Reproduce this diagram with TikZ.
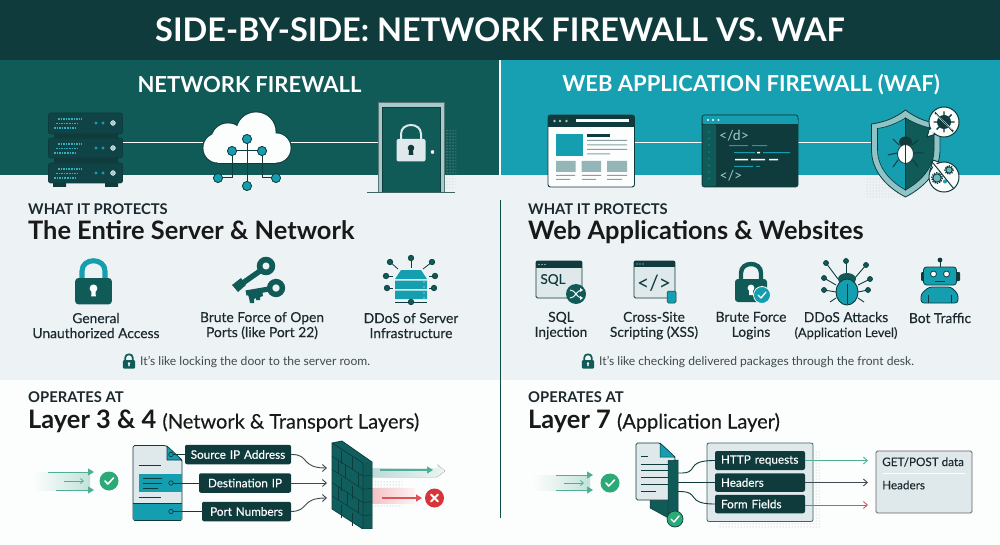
\documentclass[tikz,border=0pt]{standalone}
\usepackage{fontspec}
\setmainfont{Lato}
\newfontfamily\medf[FakeBold=0.25]{Lato}
\usetikzlibrary{arrows.meta,patterns,calc}
\definecolor{ink}{HTML}{0F3B3C}
\definecolor{deep}{HTML}{105A57}
\definecolor{teal}{HTML}{159EAF}
\definecolor{tealhi}{HTML}{17A0B2}
\definecolor{mist}{HTML}{EDF3F5}
\definecolor{pale}{HTML}{FCFDFD}
\definecolor{soft}{HTML}{DFE9EC}
\definecolor{frame}{HTML}{A6CACA}
\definecolor{okg}{HTML}{2BAA78}
\definecolor{arrg}{HTML}{50AE94}
\definecolor{bad}{HTML}{D8353B}
\definecolor{txt}{HTML}{1C2A30}
\definecolor{rose}{HTML}{CC5A66}
\tikzset{
 x=1pt,y=-1pt,
 head/.style={text=white,font=\fontsize{22}{22}\bfseries\selectfont,anchor=center},
 kicker/.style={text=txt,font=\fontsize{14.8}{15}\bfseries\selectfont,anchor=west,inner sep=0pt},
 big/.style={text=black!90,font=\fontsize{25.4}{26}\bfseries\selectfont,anchor=base west,inner sep=0pt},
 item/.style={text=txt,align=center,font=\fontsize{13.8}{15}\medf,inner sep=0pt},
 capt/.style={text=txt!85,font=\fontsize{12.1}{14}\selectfont,anchor=west,inner sep=0pt},
 tag/.style={fill=ink,rounded corners=2pt,text=white,font=\fontsize{11.7}{13}\medf,inner sep=0pt,minimum height=19pt},
 wire/.style={line width=.9pt,draw=txt!85},
 plain/.style={line width=1pt,draw=white},
 tip/.style={-{Straight Barb[length=4pt,width=7pt]}},
 solidtip/.style={-{Triangle[length=6pt,width=7pt]}},
 dot/.style={circle,fill=teal,draw=ink,line width=.7pt,inner sep=0pt,minimum size=#1},
 dot/.default=9pt,
}
% lock: x y scale body shackle
\newcommand{\lockic}[5]{\begin{scope}[shift={(#1,#2)},scale=#3]
 \draw[#5,line width=#3*4.4pt] (-10,2) -- (-10,-6) .. controls (-10,-18) and (10,-18) .. (10,-6) -- (10,2);
 \fill[#4,rounded corners=#3*3pt] (-16,0) rectangle (16,23);
 \fill[white] (0,9) circle (3.4);
 \fill[white] (-1.6,9) -- (1.6,9) -- (2,16) -- (-2,16) -- cycle;
\end{scope}}
\newcommand{\checkic}[4]{\node[circle,fill=#4,inner sep=0pt,minimum size=#3] at (#1,#2) (ck#1) {};
 \begin{scope}[shift={(#1,#2)}]\draw[white,line width=1.6pt,line cap=round,line join=round] (-4,0) -- (-1.2,3) -- (4.5,-3);\end{scope}}
\newcommand{\racku}[2]{\fill[ink!92!teal,draw=ink,line width=.6pt,rounded corners=2pt] (48.5,#1) rectangle (122.5,#2);
 \draw[teal!85,line width=1.1pt,dash pattern=on 1.6pt off 1pt] (58,#1+6) -- (82,#1+6) (56,#1+10.5) -- (78,#1+10.5) (54,#1+15) -- (77,#1+15);
 \fill[teal] (96,#1+10) circle (1.7) (103,#1+10) circle (1.7);
 \fill[frame,draw=white,line width=.4pt] (113,#1+10) circle (2.4);}
\newcommand{\cloudblob}[2]{\fill[#1] (218,148) circle (14.6+#2);\fill[#1] (228,140) circle (16.6+#2);\fill[#1] (256,132) circle (19.6+#2);\fill[#1] (276,148) circle (14.6+#2);\fill[#1] (218,140) rectangle (276,162.6+#2);}
\begin{document}
\begin{tikzpicture}
\useasboundingbox (0,0) rectangle (1000,545);
% backgrounds
\fill[pale] (0,0) rectangle (1000,545);
\fill[mist] (0,175) rectangle (1000,380);
\fill[deep] (0,60) rectangle (500,175);
\fill[tealhi] (500,60) rectangle (1000,175);
\fill[ink] (0,0) rectangle (1000,60);
\coordinate (divtop) at (500,60); \coordinate (divmid) at (500,175); \coordinate (divs) at (500,200); \coordinate (divbot) at (500,518);
\draw[white,line width=1.4pt] (divtop) -- (divmid);
\draw[deep!85!black,line width=.9pt] (divs) -- (divbot);
% titles
\node[text=white,font=\fontsize{32.5}{33}\bfseries\selectfont] (title) at (500,30) {SIDE-BY-SIDE: NETWORK FIREWALL VS. WAF};
\node[head] (hl) at (249.5,85) {NETWORK FIREWALL};
\node[head] (hr) at (751,85) {WEB APPLICATION FIREWALL (WAF)};
% ---- left top icons
\coordinate (srv) at (122.5,143); \coordinate (cloudL) at (203,143); \coordinate (cloudR) at (291,143); \coordinate (doorL) at (378,143);
\draw[plain] (srv) -- (cloudL);
\draw[plain] (cloudR) -- (doorL);
\fill[ink] (54,134) rectangle (118,138) (54,158) rectangle (118,163) (53,183) rectangle (66,187) (105,183) rectangle (118,187);
\racku{113}{134}\racku{138}{158}\racku{163}{183}
\cloudblob{ink}{1}
\cloudblob{pale}{0}
\node[dot] (c0) at (247,139) {};
\node[dot] (c1) at (232,151) {};
\node[dot] (c2) at (262,151) {};
\node[dot] (c3) at (218,178) {};
\node[dot] (c4) at (276,178) {};
\node[dot] (c5) at (247,186) {};
\draw[ink,line width=1pt] (c0) -- (c5) (c1) -- (c2) (c1) |- (c3) (c2) |- (c4);
\node[dot] at (247,139) {};\node[dot] at (232,151) {};\node[dot] at (262,151) {};\node[dot] at (218,178) {};\node[dot] at (276,178) {};\node[dot] at (247,186) {};
% door
\fill[pattern=dots,pattern color=black!25] (446,130) rectangle (456,190);
\fill[frame] (378,102) rectangle (444.5,193);
\fill[deep] (382.5,107) rectangle (440,193);
\draw[ink!70,line width=.6pt] (378,193) |- (444.5,102) -- (444.5,193);
\draw[ink,line width=.8pt] (382.5,193) |- (440,107) -- (440,193);
\draw[ink!80,line width=1pt] (367,193) -- (455,193);
\fill[white!85!frame,draw=ink,line width=.3pt] (432.5,152) circle (2.2);
\begin{scope}[shift={(411,139)}]
\draw[soft,line width=2pt] (-10,1) -- (-10,-5) .. controls (-10,-17) and (10,-17) .. (10,-5) -- (10,1);
\fill[soft,rounded corners=2pt] (-14.5,0) rectangle (14.5,22.5);
\fill[ink] (0,9) circle (3.3);\fill[ink] (-1.7,9) -- (1.7,9) -- (2.4,16) -- (-2.4,16) -- cycle;
\end{scope}
% ---- right top icons
\coordinate (brR) at (634.5,143); \coordinate (codeL) at (702,143); \coordinate (codeR) at (798,143); \coordinate (shL) at (871,143);
\draw[plain] (brR) -- (codeL);
\draw[plain] (codeR) -- (shL);
% browser
\fill[pale,draw=ink,line width=.9pt,rounded corners=2.5pt] (548,115) rectangle (634.5,187);
\fill[ink,rounded corners=2.5pt] (548,115) rectangle (634.5,127);
\fill[ink] (548,122) rectangle (634.5,127.5);
\fill[frame] (554.5,121) circle (1.3) (560,121) circle (1.3) (566.5,121) circle (1.3);
\fill[white] (576,119.5) rectangle (629,122.5);
\fill[teal] (556,134) rectangle (582.5,156);
\fill[ink] (587,134.5) rectangle (610,137);
\fill[frame!80!black] (587,140) rectangle (627,141) (587,144.5) rectangle (627,145.5) (587,149) rectangle (627,150) (587,153.5) rectangle (610,154.5);
\fill[frame!90!black] (556,161) rectangle (575.5,172) (581.5,161) rectangle (601,172) (607,161) rectangle (627,172);
\fill[frame!80!black] (556,175) rectangle (575,176) (556,179) rectangle (570,180) (582,175) rectangle (601,176) (582,179) rectangle (596,180) (607,175) rectangle (627,176) (607,179) rectangle (622,180);
% code
\fill[ink,draw=ink,line width=.8pt,rounded corners=2.5pt] (702,115) rectangle (798,187);
\fill[teal,rounded corners=2pt] (702.5,115.5) rectangle (797.5,124);
\fill[teal] (702.5,120) rectangle (797.5,124.5);
\fill[pale] (708,120) circle (1.2) (713,120) circle (1.2) (718.5,120) circle (1.2);
\fill[deep,rounded corners=2pt] (702.5,124.5) rectangle (716,186.5);
\foreach \yy in {132,138.5,145,152,158.5,165.5,172,178.5}{\fill[teal!70!deep] (709,\yy) circle (.8);}
\node[text=frame,font=\fontsize{14}{14}\selectfont,inner sep=0] (cd1) at (734,136) {</d>};
\node[text=frame,font=\fontsize{14}{14}\selectfont,inner sep=0] (cd2) at (731,176) {</>};
\fill[teal] (729,145.2) rectangle (748,146.2) (752,145.2) rectangle (767,146.2) (734,152.2) rectangle (755,153.2) (763,152.2) rectangle (790,153.2);
\fill[white] (757,152) rectangle (760,153.5) (735,159) rectangle (748,160.4) (751,159) rectangle (765,160.4) (769,159) rectangle (778,160.4);
\fill[teal] (734,166) rectangle (753,167) (756,166) rectangle (760,167);
% shield
\fill[pattern=dots,pattern color=black!25] (865,178) rectangle (905,198);
\fill[frame!85!teal,draw=ink,line width=.8pt] (905.5,110) .. controls (895,118) and (885,122) .. (871.5,124) -- (871.5,150) .. controls (871.5,172) and (888,188) .. (905.5,197) .. controls (923,188) and (940,172) .. (940,150) -- (940,124) .. controls (926,122) and (916,118) .. (905.5,110) -- cycle;
\fill[teal,draw=ink,line width=.6pt] (905.5,118) .. controls (897,123) and (888,127) .. (877.5,128.5) -- (877.5,150) .. controls (877.5,168) and (891,182) .. (905.5,190) -- cycle;
\fill[deep,draw=ink,line width=.6pt] (905.5,118) .. controls (914,123) and (923,127) .. (934,128.5) -- (934,150) .. controls (934,168) and (920,182) .. (905.5,190) -- cycle;
\draw[ink,line width=1pt,line cap=round] (899,145) -- (893,139) (912,145) -- (918,140) (897,153) -- (888,155) (914,153) -- (923,153) (898,160) -- (893,167) (913,160) -- (918,167);
\fill[ink] (905.5,142) ellipse (6.5 and 5.5);
\fill[pale,draw=ink,line width=.8pt] (905.5,154) ellipse (8 and 9.5);
\draw[ink,line width=.8pt] (905.5,145) -- (905.5,163);
\fill[pale,draw=ink,line width=1pt] (930,127) -- (927,137) -- (936,134) -- cycle;
\fill[pale,draw=ink,line width=1pt] (944,122) circle (15);
\fill[pale] (929,131) -- (934,133) -- (933,128) -- cycle;
\draw[ink,line width=1.4pt] (935,113) -- (953,131) (944,111.5) -- (944,132.5) (933.5,122) -- (954.5,122) (951.5,114.5) -- (936.5,129.5);
\fill[ink] (944,122) circle (7);
\draw[pale,line width=1.6pt] (936,114) -- (952,130);
\draw[ink,line width=.8pt] (935,112) -- (953,132);
\fill[pale,draw=ink,line width=1pt] (933,160) -- (930,171) -- (941,163) -- cycle;
\fill[pale,draw=ink,line width=1pt] (944,177) circle (15);
\fill[pale] (933.5,162) -- (933,168) -- (938,165) -- cycle;
\draw[ink,line width=1pt,fill=frame!60!teal] (937,178) circle (4.2);
\draw[ink,line width=1.4pt,dash pattern=on 1.2pt off 1.2pt] (937,178) circle (5.4);
\draw[ink,line width=1pt,fill=frame!60!teal] (949,170) circle (3.2);
\draw[ink,line width=1.2pt,dash pattern=on 1.2pt off 1.2pt] (949,170) circle (4.2);
\fill[teal] (945,181.5) circle (2);
\draw[ink,line width=1pt] (933,163) -- (954,189);
% left row
\lockic{93.5}{278}{1.15}{deep}{teal}
\begin{scope}[deep]
\draw[line width=5.6pt] (266,266) circle (6.4);
\draw[line width=5.4pt] (260,271) -- (240,285);
\fill (232,285) -- (241,278) -- (246,285) -- (238,292) -- cycle;
\draw[line width=5.4pt] (276,288) circle (6.4);
\draw[line width=5.2pt] (269,289) -- (246,293);
\fill (247,292) -- (262,290) -- (263,296) -- (260,297) -- (260,300) -- (256,300) -- (256,298) -- (254,299) -- (254,303) -- (250,303) -- (249,298) -- cycle;
\end{scope}
\fill[teal] (395,279) -- (401,270) -- (421,270) -- (427,279) -- cycle;
\fill[teal] (395,280.5) rectangle (427,289) (395,290.5) rectangle (427,299);
\fill[pale] (424,282) circle (.7) (424,287) circle (.7) (424,293) circle (.7) (424,298) circle (.7);
\draw[ink,line width=1pt] (395,302) -- (427,302);
\node[dot=5.5pt,fill=deep] (d0) at (411,302) {};
\foreach \n/\a/\b/\c/\e in {d1/390/262/398/269,d2/411/258/411/268,d3/432/262/423/269,d4/386/276/393/276,d5/435/276/429/276,d6/387/288/393/288,d7/434/288/429/288}{\draw[ink,line width=.8pt] (\a,\b) -- (\c,\e);\node[dot=5.5pt,fill=deep] (\n) at (\a,\b) {};}
\node[item] (it1) at (96,325.6) {General\\Unauthorized Access};
\node[item] (it2) at (262,325.6) {Brute Force of Open\\Ports (like Port 22)};
\node[item] (it3) at (411,325.6) {DDoS of Server\\Infrastructure};
\lockic{129}{360}{.38}{deep}{deep}
\node[capt] (cl) at (140,361.5) {It’s like locking the door to the server room.};
\node[kicker] (k1) at (28,209) {WHAT IT PROTECTS};
\node[big] (b1) at (28,240) {The Entire Server \& Network};
\node[kicker] (k2) at (528,209) {WHAT IT PROTECTS};
\node[big] (b2) at (528,240) {Web Applications \& Websites};
% right row
\fill[soft,draw=ink,line width=.9pt,rounded corners=1.5pt] (536,261) rectangle (582,298);
\fill[ink] (536,261) rectangle (582,268);
\fill[pale] (539,264.5) circle (.7) (542,264.5) circle (.7) (545,264.5) circle (.7);
\node[font=\fontsize{13.5}{14}\medf,text=ink,inner sep=0] (sqlt) at (553,280) {SQL};
\fill[deep] (576,294) circle (10);
\draw[pale,line width=1pt] (570,290) .. controls (576,290) and (576,298) .. (582,298) (570,298) .. controls (576,298) and (576,290) .. (582,290);
\fill[pale] (583,298) -- (580,296) -- (580,300) -- cycle (583,290) -- (580,288) -- (580,292) -- cycle;
\fill[soft,draw=ink,line width=.9pt,rounded corners=1.5pt] (634,261) rectangle (675,298);
\fill[ink] (634,261) rectangle (675,267);
\fill[pale] (637,264) circle (.7) (640,264) circle (.7) (643,264) circle (.7);
\node[font=\fontsize{21}{21}\selectfont,text=ink,inner sep=0] (xsst) at (654,283) {</>};
\fill[teal,draw=ink,line width=.5pt,rounded corners=1.5pt] (667,291) rectangle (676,303);
\lockic{751}{279}{1}{deep}{deep}
\fill[teal,draw=pale,line width=.8pt] (762,295) circle (8.5);
\draw[white,line width=1.3pt,line cap=round,line join=round] (758,295) -- (761,298) -- (766,292);
% bug
\foreach \n/\a/\b/\c/\e in {b1n/846/261/846/275,b2n/826/263/838/279,b3n/866/265/854/279,b4n/824/278/836/285,b5n/870/279/858/285,b6n/824/290/836/292,b7n/868/290/858/292}{\draw[ink,line width=.9pt] (\a,\b) -- (\c,\e);\node[dot=5pt,fill=deep] (\n) at (\a,\b) {};}
\draw[ink,line width=.9pt] (836,298) -- (830,302) (858,298) -- (864,302);
\fill[deep] (847,279) ellipse (9 and 6);
\fill[teal,draw=ink,line width=.9pt] (847,292) ellipse (11 and 13);
\draw[ink,line width=.8pt] (847,284) -- (847,304);
% robot
\coordinate (rb0) at (940,260);\coordinate (rb1) at (940,267);
\draw[ink,line width=1pt] (rb0) -- (rb1);\fill[ink] (940,260) circle (2.4);
\fill[ink,rounded corners=1pt] (921,272) rectangle (960,281);
\fill[teal,draw=ink,line width=.8pt,rounded corners=3pt] (923.5,267) rectangle (956.5,285);
\fill[pale,draw=ink,line width=.8pt] (933.5,274) circle (3) (946.5,274) circle (3);
\draw[ink,line width=.8pt] (935,281) -- (945,281);
\fill[teal,draw=ink,line width=.8pt,rounded corners=3pt] (921,303) -- (921,294) -- (929,287) -- (951,287) -- (958,294) -- (958,303) -- cycle;
\draw[ink,line width=.6pt] (928,295) -- (928,303) (951,295) -- (951,303);
\node[item] (r1) at (561,325.6) {SQL\\Injection};
\node[item] (r2) at (654,325.6) {Cross-Site\\Scripting (XSS)};
\node[item] (r3) at (751,325.6) {Brute Force\\Logins};
\node[item] (r4) at (846,325.6) {DDoS Attacks\\{\fontsize{12.8}{15}\medf (Application Level)}};
\node[item] (r5) at (940,318) {Bot Traffic};
\lockic{588}{360}{.38}{deep}{deep}
\node[capt] (cr) at (599,361.5) {It's like checking delivered packages through the front desk.};
% operates
\node[kicker] (o1) at (28,397) {OPERATES AT};
\node[kicker] (o2) at (528,397) {OPERATES AT};
\node[big] (l1) at (28,428.5) {Layer 3 \& 4 {\fontsize{20}{21}\mdseries\medf (Network \& Transport Layers)}};
\node[big] (l2) at (528,428.5) {Layer 7 {\fontsize{20}{21}\mdseries\medf (Application Layer)}};
% bottom left flow
\fill[left color=pale,right color=arrg!35] (33,472) rectangle (90,490);
\coordinate (a1) at (48,472);\coordinate (a1e) at (94,472);\coordinate (a2) at (64,481);\coordinate (a2e) at (84,481);\coordinate (a3) at (56,490);\coordinate (a3e) at (94,490);
\draw[arrg,line width=1pt,solidtip] (a1) -- (a1e);
\draw[arrg,line width=.8pt,-{Straight Barb[length=3pt,width=5pt]}] (a2) -- (a2e);
\draw[arrg,line width=1pt,solidtip] (a3) -- (a3e);
\checkic{109}{481}{19pt}{okg}
% doc
\fill[soft,draw=ink,line width=.7pt,rounded corners=1.5pt] (133,445.5) -- (166,445.5) -- (182,460) -- (182,520.5) -- (133,520.5) -- cycle;
\fill[teal,draw=ink,line width=.6pt] (167,446) -- (182,460) -- (167,460) -- cycle;
\fill[teal] (133.3,503) rectangle (181.7,520.2);
\fill[teal] (139,474) rectangle (181.7,492);
\draw[ink,line width=.7pt] (138.5,465.5) -- (161,465.5) (138.5,497.5) -- (161,497.5) (143,478) -- (162,478) (143,483) -- (162,483) (143,488) -- (158,488);
\draw[ink,line width=.7pt] (133,503) -- (182,503);
\node[tag,text width=106pt,align=center,minimum height=19.5pt] (t1) at (238,454.5) {Source IP Address};
\node[tag,text width=92pt,align=center,minimum height=19.5pt] (t2) at (245,483) {Destination IP};
\node[tag,text width=89pt,align=center,minimum height=19.5pt] (t3) at (246.5,511.5) {Port Numbers};
\coordinate (p1) at (171,454.5);\coordinate (p2) at (171,483);\coordinate (p3) at (171,511.5);
\draw[ink,line width=.9pt] (p1) -- (t1.west);
\draw[ink,line width=.9pt] (p2) -- (t2.west);
\draw[ink,line width=.9pt] (p3) -- (t3.west);
\draw[ink,line width=.7pt,fill=teal] (p1) circle (2.2);
\draw[ink,line width=.7pt,fill=teal] (p2) circle (2.2);
\draw[ink,line width=.7pt,fill=teal] (p3) circle (2.2);
% wall
\fill[pattern=dots,pattern color=black!30] (373,480) rectangle (402,507);
\fill[left color=frame!70,right color=arrg!12] (372,468) -- (437,468) -- (437,464.5) -- (445,471) -- (437,477) -- (372,477) -- cycle;
\fill[left color=bad!30,right color=bad!6] (372,488) rectangle (415,503);
\coordinate (g0) at (380,470);\coordinate (g1) at (433,470);\coordinate (r0) at (382,498);\coordinate (r1a) at (422,498);
\fill[deep!92!teal,draw=ink,line width=.7pt] (332,443) -- (342,441) -- (372,462) -- (372,528.5) -- (362,528.5) -- (332,509) -- cycle;
\fill[deep] (363,463) -- (372,462) -- (372,528.5) -- (363,528.5) -- cycle;
\draw[ink,line width=.7pt] (332,443) -- (363,463) -- (363,528.5);
\foreach \lt in {1,2,3,4}{\draw[ink,line width=.6pt] (332,443+\lt*13.2) -- (363,463+\lt*13.2) -- (372,462+\lt*13.2);}
\foreach \bx/\by in {352/457,341/451,358/473,345/465,338/460,352/486,341/478,358/500,347/493,338/487,352/513,341/505}{\draw[ink,line width=.6pt] (\bx,\by) -- (\bx,\by+13);}
\draw[arrg,line width=1.2pt,solidtip] (g0) -- (g1);
\draw[bad!85,line width=1.2pt,solidtip] (r0) -- (r1a);
\node[circle,fill=bad,inner sep=0,minimum size=19pt] (xc) at (434.5,498) {};
\draw[white,line width=1.8pt,line cap=round] (431,494.5) -- (438,501.5) (431,501.5) -- (438,494.5);
\coordinate (w2) at (327,468);\coordinate (w3) at (327,483);\coordinate (w4) at (327,498);
\draw[wire,tip] (t1.east) .. controls (310,454) and (300,468) .. (w2);
\draw[wire,tip] (t2.east) -- (w3);
\draw[wire,tip] (t3.east) .. controls (310,511) and (300,498) .. (w4);
% bottom right flow
\fill[left color=pale,right color=arrg!35] (533,475) rectangle (590,490);
\coordinate (b1a) at (556,475);\coordinate (b1e) at (593,475);\coordinate (b2a) at (564,483);\coordinate (b2e) at (584,483);\coordinate (b3a) at (556,490);\coordinate (b3e) at (593,490);
\draw[arrg,line width=1pt,solidtip] (b1a) -- (b1e);
\draw[arrg,line width=.8pt,-{Straight Barb[length=3pt,width=5pt]}] (b2a) -- (b2e);
\draw[arrg,line width=1pt,solidtip] (b3a) -- (b3e);
\checkic{610}{483}{19pt}{okg}
% doc right
\fill[deep,draw=ink,line width=.5pt] (650,500) -- (650,508) -- (672,520) -- (672,500) -- cycle;
\fill[soft,draw=ink,line width=.7pt,rounded corners=1.5pt] (636,443) -- (660,443) -- (675,457) -- (675,500) -- (636,500) -- cycle;
\fill[teal,draw=ink,line width=.5pt] (660,443) -- (675,457) -- (660,457) -- cycle;
\draw[ink,line width=.7pt] (641,456) -- (648,456) (641,464) -- (668,464) (641,470.5) -- (668,470.5) (641,477) -- (668,477) (641,484) -- (668,484) (641,491) -- (656,491);
\fill[deep,draw=ink,line width=.5pt] (668,460.5) -- (678,460) -- (678,521) -- (668,516) -- cycle;
\fill[pattern=dots,pattern color=black!30] (718,515) rectangle (820,528) (813,450) rectangle (820,515);
\fill[soft,draw=ink!80,line width=.8pt,rounded corners=2pt] (707,443) rectangle (813,521.5);
\node[tag,text width=90pt,minimum height=19pt,align=left] (u1) at (760,460.5) {\hspace*{6pt}HTTP requests};
\node[tag,text width=90pt,minimum height=18.5pt,align=left] (u2) at (760,482.5) {\hspace*{6pt}Headers};
\node[tag,text width=90pt,minimum height=18.5pt,align=left] (u3) at (760,504) {\hspace*{6pt}Form Fields};
\coordinate (s1) at (678,473);\coordinate (s2) at (678,482.5);\coordinate (s3) at (678,491.5);
\draw[ink,line width=.9pt] (s1) .. controls (702,474) and (682,460.5) .. (u1.west);
\draw[ink,line width=1pt] (s2) -- (u2.west);
\draw[ink,line width=.9pt] (s3) .. controls (702,491) and (684,504) .. (u3.west);
\node[circle,fill=okg,draw=ink,line width=.7pt,inner sep=0,minimum size=16pt] (ckd) at (675,519) {};
\draw[white,line width=1.4pt,line cap=round,line join=round] (671,519) -- (674,522) -- (679,516);
\fill[soft,draw=black!60,line width=.8pt,rounded corners=1.5pt] (876,451) rectangle (972,513);
\draw[pale,line width=.8pt] (883,473.5) -- (965,473.5);
\coordinate (e1) at (868,460.5);\coordinate (e2) at (868,482.5);\coordinate (e3) at (868,505);
\draw[arrg,line width=.9pt,tip] (u1.east) -- (e1);
\draw[wire,tip] (u2.east) -- (e2);
\draw[rose,line width=.9pt,tip] (u3.east |- e3) -- (e3);
\node[anchor=west,text=txt,font=\fontsize{11.7}{13}\medf,inner sep=0] (g1t) at (882,462) {GET/POST data};
\node[anchor=west,text=txt,font=\fontsize{11.7}{13}\medf,inner sep=0] (g2t) at (882,485) {Headers};
\end{tikzpicture}
\end{document}
